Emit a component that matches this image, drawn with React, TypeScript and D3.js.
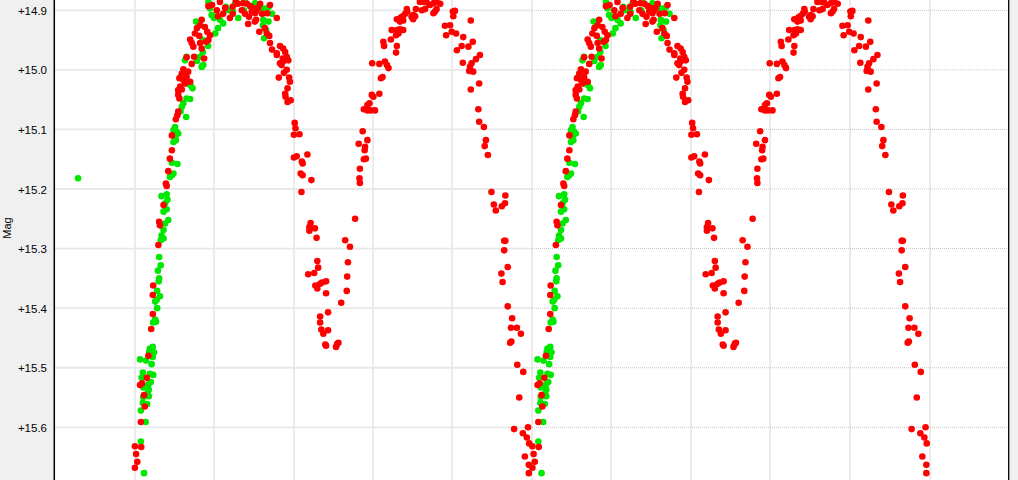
import React from 'react';
import * as d3 from 'd3';

// Phase-folded light curve (phase 0..1), drawn for two cycles
const redPhase = [
  0.001, 0.017, 0.004, 0.007, 0.001, 0.016, 0.026, 0.024, 0.019, 0.014, 0.031, 0.035, 0.042, 0.046, 0.046, 0.047, 0.060,
  0.064, 0.062, 0.073, 0.079, 0.081, 0.085, 0.089, 0.094, 0.094, 0.104, 0.108, 0.110, 0.113, 0.110, 0.115, 0.110, 0.119,
  0.123, 0.119, 0.113, 0.123, 0.131, 0.135, 0.140, 0.127, 0.144, 0.131, 0.150, 0.175, 0.140, 0.144, 0.148, 0.165, 0.169,
  0.157, 0.152, 0.163, 0.169, 0.165, 0.177, 0.183, 0.190, 0.186, 0.180,
  0.186, 0.207, 0.223, 0.247, 0.247, 0.270, 0.273, 0.283, 0.291, 0.298, 0.306, 0.295, 0.303, 0.334, 0.358, 0.306, 0.303,
  0.215, 0.255,
  0.195, 0.210, 0.228, 0.240, 0.260, 0.278, 0.288, 0.316, 0.321, 0.341, 0.286, 0.311,
  0.314, 0.328, 0.333, 0.339, 0.341, 0.346, 0.358, 0.358, 0.366, 0.374, 0.379, 0.383, 0.366, 0.374, 0.387, 0.383, 0.376,
  0.363, 0.389, 0.391, 0.385, 0.379, 0.380, 0.393, 0.385, 0.370, 0.373,
  0.403, 0.405, 0.401, 0.415, 0.401, 0.408, 0.435, 0.421, 0.423, 0.418, 0.423, 0.445, 0.420, 0.443, 0.440, 0.440, 0.454,
  0.458, 0.460, 0.462, 0.437, 0.452, 0.455, 0.460, 0.467, 0.472, 0.482, 0.482, 0.467, 0.467, 0.487, 0.470, 0.475, 0.487,
  0.480, 0.482, 0.507, 0.513, 0.510,
  0.520, 0.534, 0.535, 0.537, 0.542, 0.530, 0.555, 0.567, 0.566, 0.567, 0.577, 0.582, 0.579, 0.564, 0.574, 0.586, 0.580,
  0.577, 0.586, 0.591, 0.597, 0.601, 0.586, 0.594, 0.605, 0.616, 0.620, 0.624, 0.598, 0.616, 0.630, 0.635, 0.639,
  0.626, 0.628, 0.645, 0.647, 0.660, 0.658, 0.664, 0.668, 0.676, 0.660, 0.658, 0.660, 0.670, 0.675, 0.681, 0.686, 0.685,
  0.697, 0.701, 0.706, 0.701, 0.668, 0.676, 0.708, 0.723, 0.731, 0.718, 0.728, 0.735, 0.743, 0.752, 0.760, 0.769, 0.756,
  0.752, 0.760,
  0.801, 0.806, 0.802, 0.781, 0.794, 0.784, 0.798, 0.809, 0.846, 0.827, 0.823, 0.811, 0.840, 0.851, 0.859, 0.848, 0.844,
  0.852, 0.842, 0.826, 0.869, 0.867, 0.846, 0.865, 0.867, 0.879, 0.884, 0.889, 0.881, 0.898, 0.933, 0.904, 0.909, 0.924,
  0.932, 0.930, 0.933, 0.930, 0.939, 0.923, 0.926, 0.939, 0.950, 0.947, 0.962, 0.972, 0.945, 0.948, 0.963, 0.978, 0.968,
  0.955, 0.990, 0.977, 0.987, 0.993, 0.982, 0.992, 0.992,
];
const redMag = [
  15.632, 15.633, 15.645, 15.658, 15.668, 15.591, 15.565, 15.546, 15.526, 15.529, 15.517, 15.480, 15.435, 15.410, 15.378, 15.362, 15.294,
  15.261, 15.255, 15.227, 15.191, 15.195, 15.170, 15.149, 15.135, 15.110, 15.083, 15.076, 15.070, 15.048, 15.042, 15.028, 15.034, 15.033,
  14.999, 15.006, 15.014, 15.017, 15.012, 15.003, 15.020, 15.023, 14.990, 14.979, 14.978, 14.981, 14.949, 14.955, 14.961, 14.955, 14.964,
  14.930, 14.939, 14.943, 14.916, 14.925, 14.928, 14.936, 14.942, 14.950, 14.953,
  14.893, 14.900, 14.906, 14.894, 14.906, 14.900, 14.888, 14.889, 14.893, 14.896, 14.901, 14.902, 14.905, 14.905, 14.913, 14.916, 14.919,
  14.886, 14.884,
  14.891, 14.910, 14.896, 14.913, 14.889, 14.906, 14.911, 14.889, 14.906, 14.891, 14.923, 14.896,
  14.936, 14.930, 14.939, 14.943, 14.955, 14.966, 14.972, 14.975, 14.960, 14.964, 14.970, 14.978, 14.989, 14.986, 14.984, 15.000, 15.005,
  15.013, 15.013, 15.020, 15.031, 15.040, 15.045, 15.051, 15.054, 14.992, 14.981,
  15.089, 15.098, 15.109, 15.108, 15.147, 15.145, 15.142, 15.154, 15.157, 15.174, 15.177, 15.185, 15.205, 15.257, 15.264, 15.270, 15.266,
  15.282, 15.321, 15.332, 15.343, 15.341, 15.362, 15.367, 15.359, 15.357, 15.355, 15.375, 15.414, 15.424, 15.407, 15.436, 15.443, 15.437,
  15.461, 15.463, 15.465, 15.458, 15.460,
  15.391, 15.371, 15.347, 15.323, 15.297, 15.286, 15.250, 15.190, 15.182, 15.166, 15.150, 15.149, 15.135, 15.124, 15.103, 15.118, 15.129,
  15.066, 15.059, 15.056, 15.042, 15.045, 15.068, 15.068, 15.068, 15.040, 15.014, 15.012, 14.989, 14.990, 14.986, 14.992, 14.997,
  14.953, 14.960, 14.949, 14.933, 14.933, 14.942, 14.939, 14.932, 14.933, 14.960, 14.971, 14.915, 14.912, 14.910, 14.906, 14.902, 14.898,
  14.911, 14.908, 14.910, 14.915, 14.919, 14.917, 14.898, 14.900, 14.898, 14.886, 14.886, 14.887, 14.891, 14.888, 14.886, 14.889, 14.902,
  14.905, 14.898,
  14.902, 14.901, 14.910, 14.926, 14.925, 14.942, 14.936, 14.939, 14.917, 14.945, 14.960, 14.967, 14.961, 14.953, 14.982, 14.989, 14.995,
  15.003, 15.002, 14.988, 14.975, 15.023, 15.033, 15.066, 15.087, 15.096, 15.118, 15.143, 15.128, 15.205, 15.211, 15.226, 15.236, 15.229,
  15.224, 15.287, 15.287, 15.303, 15.331, 15.342, 15.356, 15.397, 15.417, 15.433, 15.433, 15.443, 15.458, 15.456, 15.495, 15.507, 15.550,
  15.603, 15.600, 15.610, 15.617, 15.627, 15.649, 15.663, 15.677,
];

const greenPhase = [
  0.066, 0.062, 0.066, 0.059, 0.062, 0.061, 0.057, 0.064, 0.056, 0.052, 0.057, 0.052, 0.047, 0.054, 0.039, 0.046, 0.049,
  0.037, 0.046, 0.014, 0.029, 0.043, 0.021, 0.047, 0.039, 0.018, 0.041, 0.035, 0.022, 0.036, 0.033, 0.036, 0.022, 0.021,
  0.032, 0.016, 0.028, 0.016, 0.024,
  0.073, 0.068, 0.073, 0.085, 0.077, 0.073, 0.081, 0.068, 0.081, 0.083, 0.077, 0.098, 0.089, 0.094, 0.094, 0.108, 0.102,
  0.098, 0.106, 0.110, 0.102, 0.098, 0.104, 0.130, 0.123, 0.119, 0.116, 0.131, 0.140, 0.121, 0.115, 0.131, 0.141, 0.146,
  0.157, 0.173, 0.169, 0.131, 0.127, 0.172, 0.165, 0.203, 0.155, 0.194, 0.200, 0.207, 0.215, 0.223, 0.261, 0.230, 0.236,
  0.186, 0.190, 0.316, 0.324, 0.337, 0.324, 0.337, 0.323, 0.326, 0.278, 0.253,
  0.172, 0.185, 0.210, 0.248, 0.275, 0.303, 0.346, 0.331,
];
const greenMag = [
  15.286, 15.314, 15.328, 15.337, 15.350, 15.355, 15.371, 15.380, 15.386, 15.389, 15.400, 15.419, 15.424, 15.423, 15.468, 15.465, 15.474,
  15.473, 15.482, 15.486, 15.488, 15.494, 15.508, 15.512, 15.510, 15.517, 15.524, 15.528, 15.533, 15.537, 15.543, 15.548, 15.549, 15.559,
  15.561, 15.572, 15.591, 15.624, 15.677,
  15.283, 15.278, 15.269, 15.252, 15.258, 15.238, 15.234, 15.212, 15.209, 15.218, 15.224, 15.174, 15.180, 15.177, 15.156, 15.158, 15.096,
  15.101, 15.104, 15.107, 15.112, 15.121, 15.118, 15.079, 15.056, 15.062, 15.070, 15.048, 15.049, 15.006, 15.013, 15.023, 15.026, 15.031,
  14.985, 14.992, 14.995, 14.978, 14.984, 14.970, 14.978, 14.939, 14.919, 14.908, 14.913, 14.910, 14.916, 14.922, 14.913, 14.894, 14.900,
  14.886, 14.897, 14.894, 14.897, 14.895, 14.916, 14.919, 14.925, 14.947, 14.886, 14.889,
  14.950, 14.960, 14.930, 14.903, 14.900, 14.888, 14.906, 14.933,
];

// single stray observation (not repeated)
const extraPhase = [-0.142];
const extraMag = [15.182];

const cycles = [0, 1];
const xGrid = [0, 0.2, 0.4, 0.6, 0.8, 1.0, 1.2, 1.4, 1.6, 1.8, 2.0];
const yTicks = [14.9, 15.0, 15.1, 15.2, 15.3, 15.4, 15.5, 15.6];

const W = 1018;
const H = 480;
const PL = 55;
const PR = 1008;

export default function App() {
  const x = d3.scaleLinear().domain([-0.2, 2.2]).range([55, 1009]);
  const y = d3.scaleLinear().domain([14.9, 15.6]).range([10.3, 427.3]);
  const r = 3.3;
  const green = '#00e800';
  const red = '#ff0000';
  const split = x(1.0);

  return (
    <svg width={W} height={H} style={{ position: 'absolute', left: 0, top: 0, display: 'block' }}
      fontFamily="'Liberation Sans', Arial, sans-serif">
      <defs>
        <clipPath id="plot">
          <rect x={PL} y={0} width={PR - PL} height={H} />
        </clipPath>
      </defs>
      <rect x={0} y={0} width={W} height={H} fill="#f0f0f0" />
      <rect x={PL} y={0} width={PR - PL} height={H} fill="#ffffff" />
      {xGrid.map((t) => (
        <line key={'vx' + t} x1={Math.round(x(t))} x2={Math.round(x(t))} y1={0} y2={H}
          stroke="#e6e6e6" strokeWidth={1.6} />
      ))}
      {yTicks.map((t) => (
        <g key={'hy' + t}>
          <line x1={PL} x2={split} y1={y(t)} y2={y(t)} stroke="#e8e8e8" strokeWidth={1.8} />
          <line x1={split} x2={PR} y1={y(t)} y2={y(t)} stroke="#c4c4c4" strokeWidth={1} strokeDasharray="1 1" />
        </g>
      ))}
      <g clipPath="url(#plot)">
        {cycles.map((c) =>
          greenPhase.map((p, i) => (
            <circle key={'g' + c + '-' + i} cx={x(p + c)} cy={y(greenMag[i])} r={r} fill={green} />
          ))
        )}
        {extraPhase.map((p, i) => (
          <circle key={'e' + i} cx={x(p)} cy={y(extraMag[i])} r={r} fill={green} />
        ))}
        {cycles.map((c) =>
          redPhase.map((p, i) => (
            <circle key={'r' + c + '-' + i} cx={x(p + c)} cy={y(redMag[i])} r={r} fill={red} />
          ))
        )}
      </g>
      <line x1={54.3} x2={54.3} y1={0} y2={H} stroke="#000" strokeWidth={1.5} />
      <line x1={1008.7} x2={1008.7} y1={0} y2={H} stroke="#000" strokeWidth={1.3} />
      {yTicks.map((t) => (
        <text key={'ty' + t} x={47} y={y(t) + 4.5} textAnchor="end" fontSize={11.5} fill="#000">
          {'+' + t.toFixed(1)}
        </text>
      ))}
      <text transform="translate(11,228) rotate(-90)" textAnchor="middle" fontSize={11} fill="#000">Mag</text>
    </svg>
  );
}
